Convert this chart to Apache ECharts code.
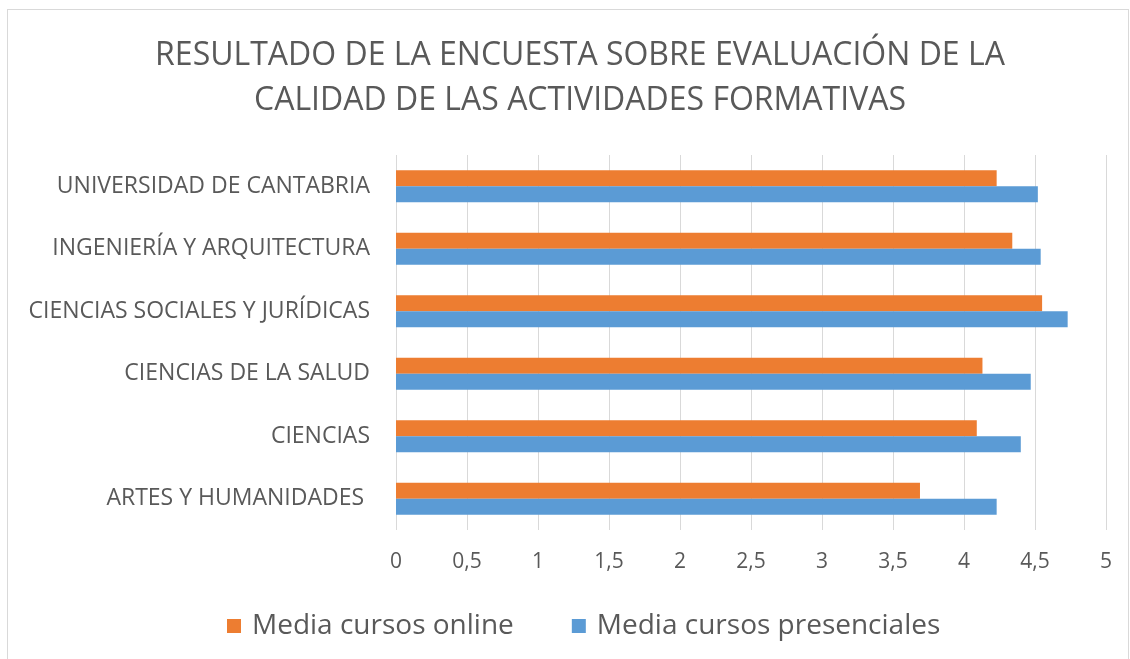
<!DOCTYPE html>
<html>
<head>
    <meta charset="utf-8">
    <title>Encuesta</title>
    <script src="https://cdn.jsdelivr.net/npm/echarts@6/dist/echarts.min.js"></script>
    <style>
        body { margin: 0; background: #fff; }
        #main { width: 1130px; height: 659px; }
        #frame { position: absolute; left: 7px; top: 9px; width: 1122px; height: 660px; border: 1px solid #d9d9d9; box-sizing: border-box; pointer-events: none; }
    </style>
</head>
<body>
    <div id="main"></div>
    <div id="frame"></div>
    <script type="text/javascript">
// categorias de abajo hacia arriba (eje de categorias de ECharts)
var categories = ['ARTES Y HUMANIDADES ', 'CIENCIAS', 'CIENCIAS DE LA SALUD',
    'CIENCIAS SOCIALES Y JURÍDICAS', 'INGENIERÍA Y ARQUITECTURA', 'UNIVERSIDAD DE CANTABRIA'];
var online = [3.69, 4.09, 4.13, 4.55, 4.34, 4.23];
var presenciales = [4.23, 4.40, 4.47, 4.73, 4.54, 4.52];
var ticks = [0, 0.5, 1, 1.5, 2, 2.5, 3, 3.5, 4, 4.5, 5];

var myChart = echarts.init(document.getElementById('main'));
var font = 'Open Sans';

myChart.setOption({
    animation: false,
    title: {
        text: 'RESULTADO DE LA ENCUESTA SOBRE EVALUACIÓN DE LA\nCALIDAD DE LAS ACTIVIDADES FORMATIVAS',
        left: 575,
        textAlign: 'center',
        top: 28,
        textStyle: {
            fontFamily: font,
            fontWeight: 'normal',
            fontSize: 32,
            color: '#595959',
            lineHeight: 45
        }
    },
    legend: {
        bottom: 14,
        left: 222,
        itemWidth: 14,
        itemHeight: 14,
        itemGap: 58,
        icon: 'rect',
        textStyle: { fontFamily: font, fontSize: 28, color: '#595959', padding: [0, 0, 0, 6] },
        data: ['Media cursos online', 'Media cursos presenciales']
    },
    grid: { left: 396, right: 24, top: 155, bottom: 129 },
    xAxis: {
        type: 'value',
        min: 0,
        max: 5,
        interval: 0.5,
        axisLine: { show: false },
        axisTick: { show: false },
        splitLine: { lineStyle: { color: '#d9d9d9', width: 1 } },
        axisLabel: {
            margin: 22,
            fontFamily: font,
            fontSize: 21,
            color: '#595959',
            formatter: function (v) { return String(v).replace('.', ','); }
        }
    },
    yAxis: {
        type: 'category',
        data: categories,
        axisLine: { show: false },
        axisTick: { show: false },
        axisLabel: { margin: 26, fontFamily: font, fontSize: 23, color: '#595959' }
    },
    series: [
        {
            name: 'Media cursos online',
            type: 'bar',
            data: online,
            barWidth: 16,
            barGap: '0%',
            barCategoryGap: '49%',
            itemStyle: { color: '#ed7d31' }
        },
        {
            name: 'Media cursos presenciales',
            type: 'bar',
            data: presenciales,
            barWidth: 16,
            barGap: '0%',
            itemStyle: { color: '#5b9bd5' }
        }
    ]
});
    </script>
</body>
</html>
